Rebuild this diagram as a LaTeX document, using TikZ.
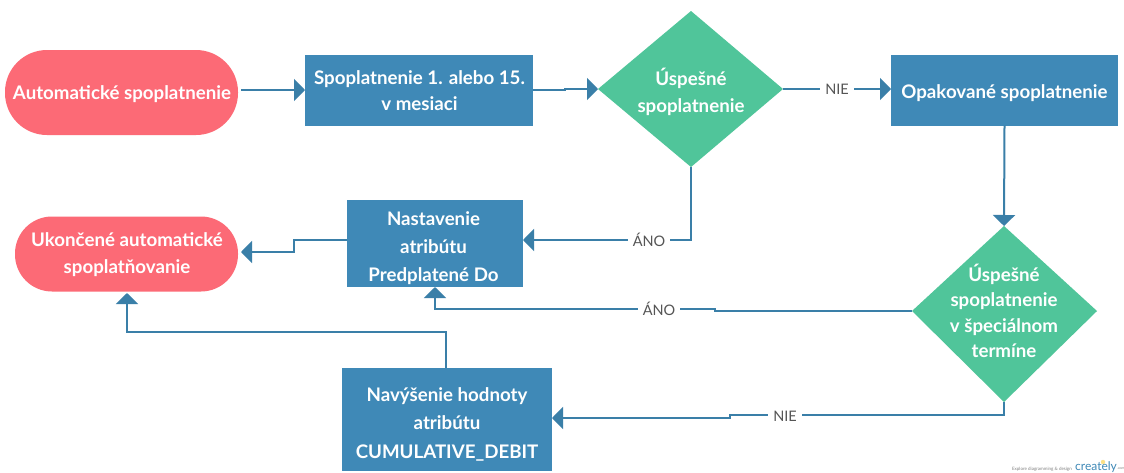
\documentclass[tikz,border=0pt]{standalone}
\usepackage{fontspec}
\setmainfont{Lato}
\usetikzlibrary{shapes.geometric,arrows.meta,positioning}
\definecolor{pillc}{HTML}{FC6A76}
\definecolor{boxc}{HTML}{3F89B7}
\definecolor{diac}{HTML}{50C59A}
\definecolor{linec}{HTML}{3A7FA8}
\definecolor{labc}{HTML}{555555}
\tikzset{
  pill/.style={fill=pillc,inner sep=0pt},
  boxn/.style={fill=boxc,inner sep=0pt},
  txt/.style={text=white,align=center,inner sep=0pt,font=\bfseries\fontsize{18.7}{#1}\selectfont},
  txt/.default=27,
  conn/.style={draw=linec,line width=2pt,-{Triangle[length=11pt,width=22pt]}},
  connlab/.style={fill=white,text=labc,font=\fontsize{14.5}{16}\selectfont,inner xsep=5pt,inner ysep=1pt},
}
\begin{document}
\begin{tikzpicture}[x=1pt,y=-1pt]
\useasboundingbox (0,0) rectangle (1124,472);
\fill[white] (0,0) rectangle (1124,472);
% shapes
\node[pill,minimum width=233pt,minimum height=85pt,rounded corners=42pt] (p1) at (121.5,92.5) {};
\node[txt] (p1t) at (122,94.5) {Automatické spoplatnenie};
\node[boxn,minimum width=228pt,minimum height=71pt] (b1) at (419,90) {};
\node[txt=26] (b1t) at (419.5,91) {Spoplatnenie 1. alebo 15.\\v mesiaci};
\fill[diac] (598,89) coordinate (d1w) -- (691,11) coordinate (d1n) -- (783,89) coordinate (d1e) -- (691,167) coordinate (d1s) -- cycle;
\node[txt=27] (d1) at (691,91.5) {Úspešné\\spoplatnenie};
\node[boxn,minimum width=227pt,minimum height=71pt] (b2) at (1004.5,90) {};
\node[txt] (b2t) at (1004.5,93) {Opakované spoplatnenie};
\fill[diac] (912,311) coordinate (d2w) -- (1004,226) coordinate (d2n) -- (1097,311) coordinate (d2e) -- (1004,402) coordinate (d2s) -- cycle;
\node[txt=25.5] (d2) at (1004,311) {Úspešné\\spoplatnenie\\v špeciálnom\\termíne};
\node[boxn,minimum width=176pt,minimum height=87pt] (b3) at (435,243.5) {};
\node[txt=28] (b3t) at (433.5,248.5) {Nastavenie\\atribútu\\Predplatené Do};
\node[pill,minimum width=223pt,minimum height=75pt,rounded corners=37pt] (p2) at (126.5,254) {};
\node[txt=27] (p2t) at (127,255) {Ukončené automatické\\spoplatňovanie};
\node[boxn,minimum width=210pt,minimum height=103pt] (b4) at (447,419.5) {};
\node[txt=28.5] (b4t) at (447,424) {Navýšenie hodnoty\\atribútu\\CUMULATIVE\_DEBIT};
% connector waypoints
\coordinate (p1e) at (241,90);
\coordinate (b1w) at (305,90);
\coordinate (b1e) at (533,90);
\coordinate (b2w) at (891,89);
\coordinate (b3e) at (523,240);
\coordinate (b3w) at (347,240);
\coordinate (b3s) at (435,287);
\coordinate (p2e) at (241,252);
\coordinate (p2s) at (127,293);
\coordinate (b4n) at (446,368);
\coordinate (b4e) at (552,418);
% connectors
\draw[conn] (p1e) -- (b1w);
\draw[conn] (b1e) -- (565,90) -- (565,89) -- (d1w);
\draw[conn] (d1e) -- (b2w) node[connlab,midway] {NIE};
\draw[conn] (b2.south) -- (d2n);
\draw[conn] (d1s) -- (691,240) -- (b3e) node[connlab,pos=0.25] {ÁNO};
\draw[conn] (b3w) -- (294,240) -- (294,252) -- (p2e);
\draw[conn] (d2w) -- (715,311) -- (715,309) -- (435,309) -- (b3s);
\node[connlab] (l3) at (659,309) {ÁNO};
\draw[conn] (d2s) -- (1004,415) -- (730,415) -- (730,418) -- (b4e);
\node[connlab] (l4) at (785,416) {NIE};
\draw[conn] (b4n) -- (446,332) -- (127,332) -- (p2s);
% watermark
\fill[yellow!55!orange!45] (1103,462) circle (2.2pt);
\node[anchor=east,text=gray,font=\fontsize{4.5}{5}\selectfont,inner sep=0pt] (wm1) at (1072,469) {Explore diagramming \& design};
\node[anchor=west,text=boxc,font=\fontsize{12}{12}\selectfont,inner sep=0pt] (wm2) at (1075,467) {creately};
\node[anchor=west,text=gray,font=\fontsize{3.5}{4}\selectfont,inner sep=0pt] (wm3) at (1117,469) {.com};
\end{tikzpicture}
\end{document}
